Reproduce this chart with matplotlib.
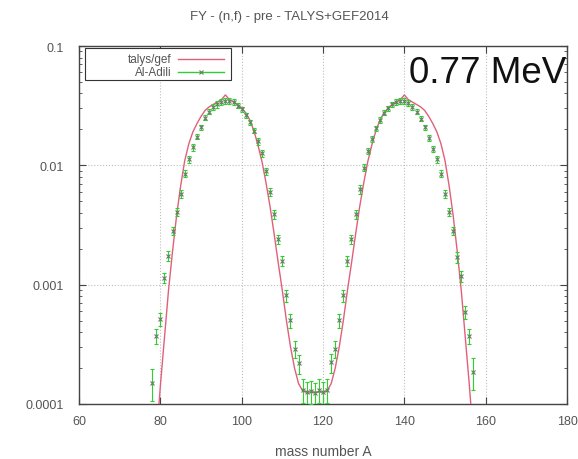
import numpy as np
import matplotlib
matplotlib.use("Agg")
import matplotlib.pyplot as plt
from matplotlib.patches import Rectangle

# ── data: pre-neutron fission-fragment yields, log10(Y) per mass number ────
# TALYS+GEF2014 model curve
A_MODEL = list(range(79, 158))
LOGY_MODEL = [
    -4.30, -3.85, -3.45, -3.05, -2.72, -2.42, -2.17, -1.96, -1.82, -1.72,   # 79-88
    -1.65, -1.59, -1.54, -1.51, -1.49, -1.47, -1.45, -1.41, -1.45, -1.47,   # 89-98
    -1.49, -1.52, -1.56, -1.62, -1.71, -1.83, -1.97, -2.15, -2.35, -2.58,   # 99-108
    -2.82, -3.05, -3.30, -3.52, -3.70, -3.83, -3.89, -3.90, -3.90, -3.90,   # 109-118
    -3.90, -3.90, -3.89, -3.83, -3.70, -3.52, -3.30, -3.05, -2.82, -2.58,   # 119-128
    -2.35, -2.15, -1.97, -1.83, -1.71, -1.62, -1.56, -1.52, -1.49, -1.47,   # 129-138
    -1.45, -1.41, -1.45, -1.47, -1.49, -1.51, -1.54, -1.59, -1.65, -1.72,   # 139-148
    -1.82, -1.96, -2.17, -2.42, -2.72, -3.05, -3.45, -3.85, -4.30,          # 149-157
]

# Al-Adili measurement
A_EXP = list(range(78, 158))
LOGY_EXP = [
    -3.82, -3.43, -3.29, -2.94, -2.76, -2.55, -2.39, -2.24, -2.07, -1.95,   # 78-87
    -1.85, -1.76, -1.68, -1.60, -1.55, -1.51, -1.49, -1.47, -1.46, -1.46,   # 88-97
    -1.47, -1.50, -1.53, -1.58, -1.64, -1.71, -1.80, -1.90, -2.05, -2.22,   # 98-107
    -2.41, -2.62, -2.80, -3.09, -3.30, -3.54, -3.66, -3.88, -3.90, -3.89,   # 108-117
    -3.91, -3.88, -3.90, -3.88, -3.65, -3.54, -3.30, -3.09, -2.80, -2.62,   # 118-127
    -2.41, -2.20, -2.02, -1.88, -1.78, -1.69, -1.62, -1.56, -1.52, -1.49,   # 128-137
    -1.47, -1.46, -1.46, -1.48, -1.51, -1.55, -1.61, -1.68, -1.77, -1.86,   # 138-147
    -1.95, -2.07, -2.24, -2.39, -2.55, -2.77, -2.93, -3.23, -3.43, -3.73,   # 148-157
]
# relative uncertainty (fraction of yield)
REL_ERR = [
    0.30, 0.15, 0.12, 0.10, 0.10, 0.08, 0.08, 0.07, 0.07, 0.06,
    0.06, 0.05, 0.05, 0.05, 0.05, 0.05, 0.06, 0.06, 0.06, 0.06,
    0.06, 0.05, 0.05, 0.05, 0.05, 0.05, 0.06, 0.06, 0.07, 0.08,
    0.08, 0.09, 0.10, 0.12, 0.14, 0.16, 0.18, 0.22, 0.22, 0.22,
    0.22, 0.22, 0.22, 0.22, 0.18, 0.16, 0.14, 0.12, 0.10, 0.09,
    0.08, 0.08, 0.07, 0.06, 0.06, 0.05, 0.05, 0.05, 0.05, 0.05,
    0.06, 0.06, 0.06, 0.06, 0.05, 0.05, 0.05, 0.05, 0.05, 0.06,
    0.06, 0.07, 0.07, 0.08, 0.08, 0.10, 0.10, 0.12, 0.15, 0.30,
]

SERIES  = ["talys/gef", "Al-Adili"]
TITLE   = "FY - (n,f) - pre - TALYS+GEF2014"
ENERGY  = "0.77 MeV"
XTICKS  = [60, 80, 100, 120, 140, 160, 180]
YTICKS  = [1e-4, 1e-3, 1e-2, 1e-1]
YLABELS = ["0.0001", "0.001", "0.01", "0.1"]

RED   = "#e0607a"
GREEN = "#2fcf2f"
PTCOL = "#6a7a66"
GREY  = "#555555"

plt.rcParams['font.family'] = ['Liberation Sans', 'DejaVu Sans']

y_model = 10.0 ** np.array(LOGY_MODEL)
y_exp   = 10.0 ** np.array(LOGY_EXP)
y_err   = y_exp * np.array(REL_ERR)

fig = plt.figure(figsize=(5.78, 4.60), dpi=100)
ax = fig.add_axes([0.1367, 0.1196, 0.8443, 0.7782])

ax.plot(A_MODEL, y_model, color=RED, lw=1.0, zorder=3)
ax.errorbar(A_EXP, y_exp, yerr=y_err, fmt='x', ms=3, mew=0.8,
            mec=PTCOL, color=GREEN, ecolor=GREEN, elinewidth=0.8,
            capsize=1.5, capthick=0.8, zorder=4)

ax.set_yscale('log')
ax.set_xlim(60, 180)
ax.set_ylim(1e-4, 1e-1)
ax.set_xticks(XTICKS)
ax.set_xticklabels([str(t) for t in XTICKS])
ax.set_yticks(YTICKS)
ax.set_yticklabels(YLABELS)

ax.tick_params(which='both', direction='in', top=True, right=True,
               labelsize=9, labelcolor=GREY, color="#444444")
ax.tick_params(which='major', length=5, width=0.8)
ax.tick_params(which='minor', length=2.5, width=0.6)
ax.tick_params(axis='x', pad=8)
ax.tick_params(axis='y', pad=11)
for s in ax.spines.values():
    s.set_color("#444444")
    s.set_linewidth(1.0)

ax.grid(True, which='major', color="#bdbdbd", ls=':', lw=0.8)

ax.set_xlabel("mass number A", fontsize=10, color=GREY, labelpad=12)
fig.text(0.5, 0.962, TITLE, ha='center', va='center', fontsize=9.5,
         color=GREY)
ax.text(0.998, 0.927, ENERGY, transform=ax.transAxes, ha='right',
        va='center', fontsize=26.5, color="#111111")

# gnuplot-style key: right-aligned label, then the line sample
tr = ax.transAxes
ax.add_patch(Rectangle((0.012, 0.905), 0.30, 0.09, transform=tr,
                       facecolor='white', edgecolor="#333333", lw=0.8,
                       zorder=6))
ax.text(0.190, 0.964, SERIES[0], transform=tr, ha='right', va='center',
        fontsize=8.5, color=GREY, zorder=7)
ax.text(0.190, 0.928, SERIES[1], transform=tr, ha='right', va='center',
        fontsize=8.5, color=GREY, zorder=7)
ax.plot([0.202, 0.298], [0.964, 0.964], transform=tr, color=RED, lw=1.0,
        zorder=7)
ax.plot([0.202, 0.298], [0.928, 0.928], transform=tr, color=GREEN, lw=1.0,
        zorder=7)
ax.plot([0.250], [0.928], transform=tr, marker='x', ms=3, mew=0.8,
        color=PTCOL, zorder=8)

fig.savefig("out.png", dpi=100)
